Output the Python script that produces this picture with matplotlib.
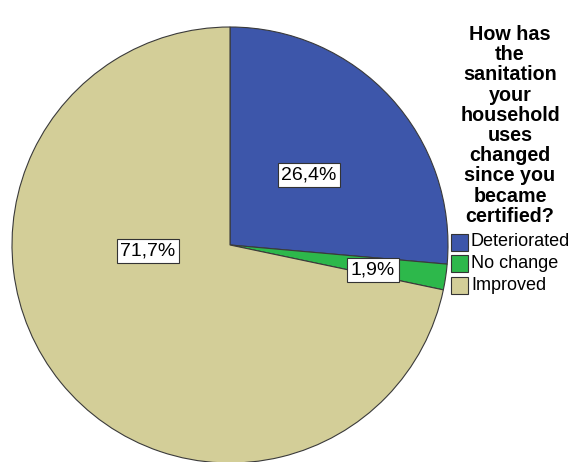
import matplotlib
matplotlib.use("Agg")
import matplotlib.pyplot as plt
from matplotlib.patches import Rectangle

categories = ["Deteriorated", "No change", "Improved"]
percentages = [26.4, 1.9, 71.7]
colors = ["#3d56aa", "#2db84b", "#d3ce98"]
legend_title = "How has\nthe\nsanitation\nyour\nhousehold\nuses\nchanged\nsince you\nbecame\ncertified?"

# label anchor points (pixel coords, origin top-left)
label_pos = [(309, 175), (373, 270), (148, 251)]

W, H = 575, 462
fig = plt.figure(figsize=(W / 100, H / 100), dpi=100)
ax = fig.add_axes([0, 0, 1, 1])

cx, cy, r = 230, H - 245, 218
wedges, _ = ax.pie(percentages, colors=colors, startangle=90, counterclock=False,
                   center=(cx, cy), radius=r, frame=True,
                   wedgeprops=dict(edgecolor="#3a3a3a", linewidth=0.8))
ax.set_xlim(0, W)
ax.set_ylim(0, H)
ax.set_aspect("equal")
ax.axis("off")

font = "Liberation Sans"
for val, (px, py) in zip(percentages, label_pos):
    ax.text(px, H - py, f"{val:.1f}%".replace(".", ","), ha="center", va="center",
            fontsize=14, family=font, color="black",
            bbox=dict(boxstyle="square,pad=0.18", fc="white", ec="#333333", lw=0.8))

# legend title
ax.text(510, H - 25, legend_title, ha="center", va="top", fontsize=14.2,
        fontweight="bold", family=font, linespacing=1.08)

# legend entries
for i, (name, col) in enumerate(zip(categories, colors)):
    yc = H - (242 + i * 21.5)
    ax.add_patch(Rectangle((451, yc - 8.5), 17, 17, fc=col, ec="#333333", lw=0.8,
                           clip_on=False))
    ax.text(471, yc, name, ha="left", va="center", fontsize=13, family=font)

fig.savefig("out.png", dpi=100)
